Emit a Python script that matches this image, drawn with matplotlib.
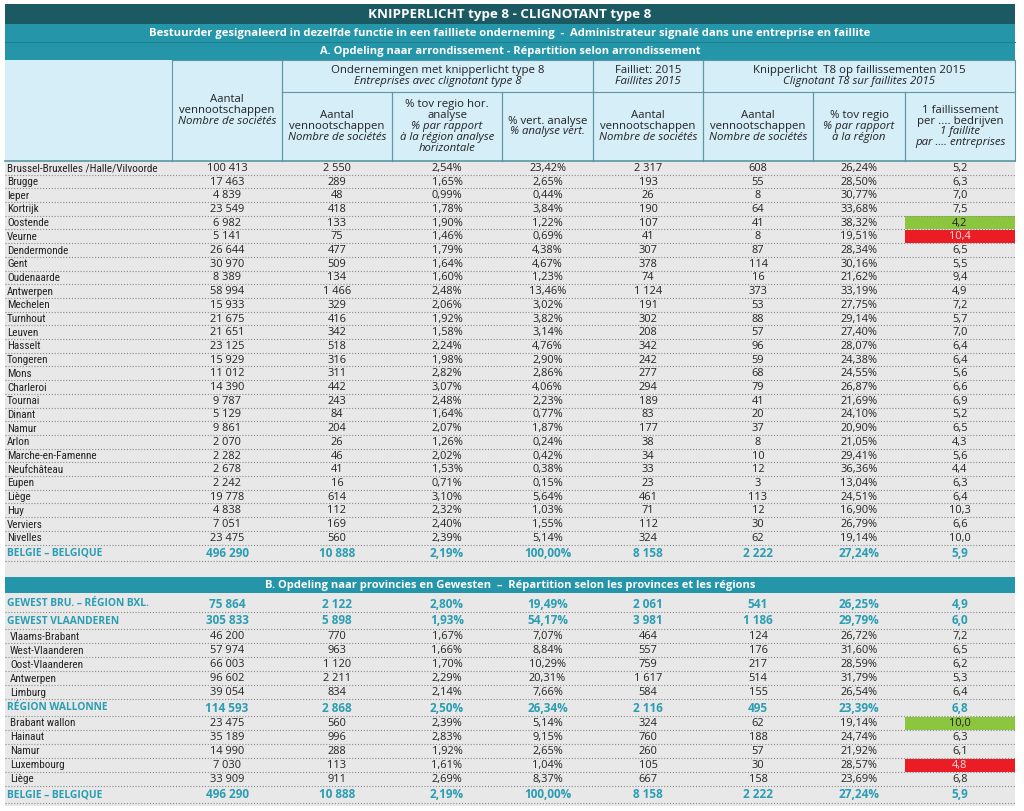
import matplotlib.pyplot as plt
from matplotlib.patches import Rectangle

# ---- data -------------------------------------------------------------
names_a = ["Brussel-Bruxelles /Halle/Vilvoorde", "Brugge", "Ieper", "Kortrijk",
           "Oostende", "Veurne", "Dendermonde", "Gent", "Oudenaarde", "Antwerpen",
           "Mechelen", "Turnhout", "Leuven", "Hasselt", "Tongeren", "Mons",
           "Charleroi", "Tournai", "Dinant", "Namur", "Arlon", "Marche-en-Famenne",
           "Neufchâteau", "Eupen", "Liège", "Huy", "Verviers", "Nivelles"]
ven_a = [100413, 17463, 4839, 23549, 6982, 5141, 26644, 30970, 8389, 58994,
         15933, 21675, 21651, 23125, 15929, 11012, 14390, 9787, 5129, 9861,
         2070, 2282, 2678, 2242, 19778, 4838, 7051, 23475]
kl_a = [2550, 289, 48, 418, 133, 75, 477, 509, 134, 1466, 329, 416, 342, 518,
        316, 311, 442, 243, 84, 204, 26, 46, 41, 16, 614, 112, 169, 560]
hor_a = [2.54, 1.65, 0.99, 1.78, 1.90, 1.46, 1.79, 1.64, 1.60, 2.48, 2.06, 1.92,
         1.58, 2.24, 1.98, 2.82, 3.07, 2.48, 1.64, 2.07, 1.26, 2.02, 1.53, 0.71,
         3.10, 2.32, 2.40, 2.39]
vert_a = [23.42, 2.65, 0.44, 3.84, 1.22, 0.69, 4.38, 4.67, 1.23, 13.46, 3.02,
          3.82, 3.14, 4.76, 2.90, 2.86, 4.06, 2.23, 0.77, 1.87, 0.24, 0.42, 0.38,
          0.15, 5.64, 1.03, 1.55, 5.14]
fail_a = [2317, 193, 26, 190, 107, 41, 307, 378, 74, 1124, 191, 302, 208, 342,
          242, 277, 294, 189, 83, 177, 38, 34, 33, 23, 461, 71, 112, 324]
klf_a = [608, 55, 8, 64, 41, 8, 87, 114, 16, 373, 53, 88, 57, 96, 59, 68, 79,
         41, 20, 37, 8, 10, 12, 3, 113, 12, 30, 62]
reg_a = [26.24, 28.50, 30.77, 33.68, 38.32, 19.51, 28.34, 30.16, 21.62, 33.19,
         27.75, 29.14, 27.40, 28.07, 24.38, 24.55, 26.87, 21.69, 24.10, 20.90,
         21.05, 29.41, 36.36, 13.04, 24.51, 16.90, 26.79, 19.14]
ratio_a = [5.2, 6.3, 7.0, 7.5, 4.2, 10.4, 6.5, 5.5, 9.4, 4.9, 7.2, 5.7, 7.0, 6.4,
           6.4, 5.6, 6.6, 6.9, 5.2, 6.5, 4.3, 5.6, 4.4, 6.3, 6.4, 10.3, 6.6, 10.0]

total_name = "BELGIE – BELGIQUE"
total_vals = [496290, 10888, 2.19, 100.00, 8158, 2222, 27.24, 5.9]

names_b = ["GEWEST BRU. – RÉGION BXL.", "GEWEST VLAANDEREN", "Vlaams-Brabant",
           "West-Vlaanderen", "Oost-Vlaanderen", "Antwerpen", "Limburg",
           "RÉGION WALLONNE", "Brabant wallon", "Hainaut", "Namur", "Luxembourg",
           "Liège", "BELGIE – BELGIQUE"]
bold_b = [True, True, False, False, False, False, False, True, False, False,
          False, False, False, True]
ven_b = [75864, 305833, 46200, 57974, 66003, 96602, 39054, 114593, 23475, 35189,
         14990, 7030, 33909, 496290]
kl_b = [2122, 5898, 770, 963, 1120, 2211, 834, 2868, 560, 996, 288, 113, 911, 10888]
hor_b = [2.80, 1.93, 1.67, 1.66, 1.70, 2.29, 2.14, 2.50, 2.39, 2.83, 1.92, 1.61,
         2.69, 2.19]
vert_b = [19.49, 54.17, 7.07, 8.84, 10.29, 20.31, 7.66, 26.34, 5.14, 9.15, 2.65,
          1.04, 8.37, 100.00]
fail_b = [2061, 3981, 464, 557, 759, 1617, 584, 2116, 324, 760, 260, 105, 667, 8158]
klf_b = [541, 1186, 124, 176, 217, 514, 155, 495, 62, 188, 57, 30, 158, 2222]
reg_b = [26.25, 29.79, 26.72, 31.60, 28.59, 31.79, 26.54, 23.39, 19.14, 24.74,
         21.92, 28.57, 23.69, 27.24]
ratio_b = [4.9, 6.0, 7.2, 6.5, 6.2, 5.3, 6.4, 6.8, 10.0, 6.3, 6.1, 4.8, 6.8, 5.9]

GREEN = "#8cc63e"
RED = "#ec1c24"
highlight_a = {"Oostende": GREEN, "Veurne": RED}
highlight_b = {"Brabant wallon": GREEN, "Luxembourg": RED}

title = "KNIPPERLICHT type 8 - CLIGNOTANT type 8"
subtitle = ("Bestuurder gesignaleerd in dezelfde functie in een failliete onderneming  -  "
            "Administrateur signalé dans une entreprise en faillite")
section_a = "A. Opdeling naar arrondissement - Répartition selon arrondissement"
section_b = ("B. Opdeling naar provincies en Gewesten  –  "
             "Répartition selon les provinces et les régions")

# header cells: (col_from, col_to, top, bottom, [(text, italic), ...])
headers = [
    (1, 2, 60, 161, [("Aantal", False), ("vennootschappen", False),
                     ("Nombre de sociétés", True)]),
    (2, 5, 60, 92, [("Ondernemingen met knipperlicht type 8", False),
                    ("Entreprises avec clignotant type 8", True)]),
    (5, 6, 60, 92, [("Failliet: 2015", False), ("Faillites 2015", True)]),
    (6, 9, 60, 92, [("Knipperlicht  T8 op faillissementen 2015", False),
                    ("Clignotant T8 sur faillites 2015", True)]),
    (2, 3, 92, 161, [("Aantal", False), ("vennootschappen", False),
                     ("Nombre de sociétés", True)]),
    (3, 4, 92, 161, [("% tov regio hor.", False), ("analyse", False),
                     ("% par rapport", True), ("à la région analyse", True),
                     ("horizontale", True)]),
    (4, 5, 92, 161, [("% vert. analyse", False), ("% analyse vert.", True)]),
    (5, 6, 92, 161, [("Aantal", False), ("vennootschappen", False),
                     ("Nombre de sociétés", True)]),
    (6, 7, 92, 161, [("Aantal", False), ("vennootschappen", False),
                     ("Nombre de sociétés", True)]),
    (7, 8, 92, 161, [("% tov regio", False), ("% par rapport", True),
                     ("à la région", True)]),
    (8, 9, 92, 161, [("1 faillissement", False), ("per .... bedrijven", False),
                     ("1 faillite", True), ("par .... entreprises", True)]),
]

# ---- style ------------------------------------------------------------
DARK = "#1b5a63"
TEAL = "#2596a9"
HEAD_BG = "#d5eef8"
ROW_BG = "#e8e8e8"
TEAL_TXT = "#2a9db3"
TXT = "#222222"
LINE = "#5f96a0"
LABEL_FONT = ["Roboto Condensed", "DejaVu Sans"]
NUM_FONT = ["Open Sans", "DejaVu Sans"]

edges = [5, 172, 282, 392, 502, 593, 703, 813, 905, 1015]
centers = [(a + b) / 2 for a, b in zip(edges[1:-1], edges[2:])]


def fmt_int(n):
    return f"{n:,}".replace(",", " ")


def fmt_pct(p):
    return f"{p:.2f}%".replace(".", ",")


def fmt_dec(v):
    return f"{v:.1f}".replace(".", ",")


def row_strings(vals):
    ven, kl, hor, vert, fail, klf, reg, ratio = vals
    return [fmt_int(ven), fmt_int(kl), fmt_pct(hor), fmt_pct(vert),
            fmt_int(fail), fmt_int(klf), fmt_pct(reg), fmt_dec(ratio)]


fig = plt.figure(figsize=(10.24, 8.11), dpi=100)
ax = fig.add_axes([0, 0, 1, 1])
ax.set_xlim(0, 1024)
ax.set_ylim(811, 0)
ax.axis("off")


def bar(y0, y1, color, text, size):
    ax.add_patch(Rectangle((edges[0], y0), edges[-1] - edges[0], y1 - y0,
                           facecolor=color, edgecolor="none"))
    ax.text((edges[0] + edges[-1]) / 2, (y0 + y1) / 2 + 0.5, text, color="white",
            fontsize=size, fontweight="bold", family=NUM_FONT,
            ha="center", va="center")


def draw_row(y0, y1, label, vals, bold=False, indent=7, hl=None):
    yc = (y0 + y1) / 2 + 0.5
    if hl is not None:
        ax.add_patch(Rectangle((edges[8], y0 + 0.5), edges[9] - edges[8], y1 - y0 - 1,
                               facecolor=hl, edgecolor="none", zorder=1))
    ax.plot([edges[0], edges[-1]], [y1, y1], color="#8a8a8a", lw=0.8,
            ls=(0, (1, 1.6)), zorder=2)
    if bold:
        ax.text(indent, yc, label, color=TEAL_TXT, fontsize=7.4, fontweight="bold",
                family=NUM_FONT, ha="left", va="center", zorder=3)
    else:
        ax.text(indent, yc, label, color=TXT, fontsize=8, family=LABEL_FONT,
                stretch="condensed", ha="left", va="center", zorder=3)
    for i, (cx, s) in enumerate(zip(centers, row_strings(vals))):
        col = TEAL_TXT if bold else TXT
        if i == 7 and hl == RED:
            col = "#fbe3e3"
        ax.text(cx, yc, s, color=col, fontsize=8.5 if bold else 7.9,
                fontweight="bold" if bold else "normal", family=NUM_FONT,
                ha="center", va="center", zorder=3)


# title bars
bar(4, 24, DARK, title, 9.6)
bar(24, 42, TEAL, subtitle, 8.1)
bar(42, 60, TEAL, section_a, 8.0)
ax.plot([edges[0], edges[-1]], [42, 42], color="#1d7e8e", lw=0.8)

# header block
ax.add_patch(Rectangle((edges[0], 60), edges[-1] - edges[0], 101,
                       facecolor=HEAD_BG, edgecolor="none"))
for c0, c1, top, bot, lines in headers:
    x0, x1 = edges[c0], edges[c1]
    ax.plot([x0, x0], [top, bot], color=LINE, lw=0.8)
    ax.plot([x1, x1], [top, bot], color=LINE, lw=0.8)
    ax.plot([x0, x1], [top, top], color=LINE, lw=0.8)
    step = 10.8
    ystart = (top + bot) / 2 - step * (len(lines) - 1) / 2
    for k, (txt, it) in enumerate(lines):
        ax.text((x0 + x1) / 2, ystart + k * step, txt, color=TXT, fontsize=8.2,
                style="italic" if it else "normal", family=NUM_FONT,
                ha="center", va="center")
ax.plot([edges[0], edges[-1]], [161, 161], color=LINE, lw=1.2)

# data background
ax.add_patch(Rectangle((edges[0], 161), edges[-1] - edges[0], 645,
                       facecolor=ROW_BG, edgecolor="none", zorder=0))

# section A rows
h_a = 13.7
y = 161
for i, name in enumerate(names_a):
    vals = [ven_a[i], kl_a[i], hor_a[i], vert_a[i], fail_a[i], klf_a[i],
            reg_a[i], ratio_a[i]]
    draw_row(y, y + h_a, name, vals, hl=highlight_a.get(name))
    y += h_a
draw_row(y, y + 16.5, total_name, total_vals, bold=True)

# section B
bar(577, 593, TEAL, section_b, 8.0)
y = 595
for i, name in enumerate(names_b):
    vals = [ven_b[i], kl_b[i], hor_b[i], vert_b[i], fail_b[i], klf_b[i],
            reg_b[i], ratio_b[i]]
    h = 17 if bold_b[i] else 14
    draw_row(y, y + h, name, vals, bold=bold_b[i], indent=7 if bold_b[i] else 10,
             hl=highlight_b.get(name))
    y += h

fig.savefig("out.png", dpi=100)
